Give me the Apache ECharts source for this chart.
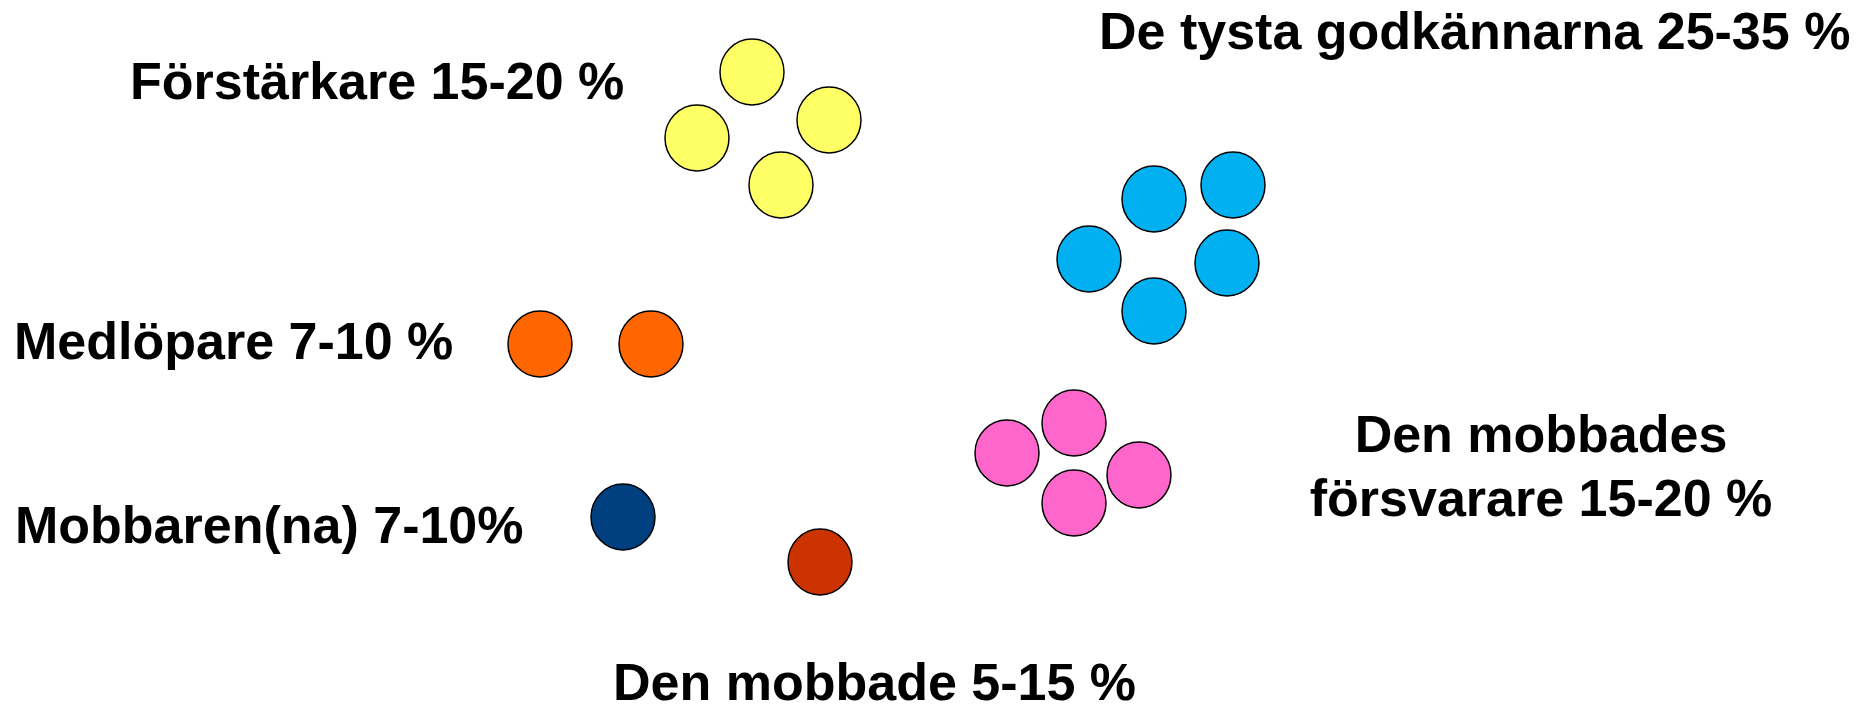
<!DOCTYPE html>
<html>
<head>
<meta charset="utf-8">
<title>Mobbning - roller</title>
<script src="https://cdn.jsdelivr.net/npm/echarts@6/dist/echarts.min.js"></script>
<style>
  html, body { margin: 0; padding: 0; background: #fff; }
  #main { width: 1856px; height: 709px; }
</style>
</head>
<body>
<div id="main"></div>
<script>
// circle groups, positions in the picture's own x/y space (0..1856, 0..709)
var forstarkare = [[752, 72], [829, 120], [697, 138], [781, 185]];
var tystaGodkannare = [[1154, 199], [1233, 185], [1089, 259], [1227, 263], [1154, 311]];
var medlopare = [[540, 344], [651, 344]];
var mobbaren = [[623, 517]];
var denMobbade = [[820, 562]];
var forsvarare = [[1074, 423], [1007, 453], [1139, 475], [1074, 503]];

// label texts and anchors
var labelTexts = [
  'Förstärkare 15-20 %',
  'De tysta godkännarna 25-35 %',
  'Medlöpare 7-10 %',
  'Mobbaren(na) 7-10%',
  'Den mobbade 5-15 %',
  'Den mobbades\nförsvarare 15-20 %'
];
var labelX = [130, 1099, 14, 15, 613, 1541];
var labelY = [85, 35, 345, 529, 686, 470];
var labelAlign = ['left', 'left', 'left', 'left', 'left', 'center'];

var myChart = echarts.init(document.getElementById('main'));

function circles(name, data, color) {
  return {
    name: name,
    type: 'scatter',
    symbol: 'circle',
    symbolSize: [64, 66],
    data: data,
    itemStyle: { color: color, borderColor: '#000', borderWidth: 1.5, opacity: 1 },
    emphasis: { disabled: true },
    silent: true
  };
}

var labelData = [];
for (var i = 0; i < labelTexts.length; i++) {
  labelData.push({
    value: [labelX[i], labelY[i], labelTexts[i]],
    label: { align: labelAlign[i] }
  });
}

var option = {
  animation: false,
  backgroundColor: '#ffffff',
  grid: { left: 0, right: 0, top: 0, bottom: 0 },
  xAxis: { type: 'value', min: 0, max: 1856, show: false },
  yAxis: { type: 'value', min: 0, max: 709, inverse: true, show: false },
  series: [
    circles('Förstärkare', forstarkare, '#FFFF66'),
    circles('De tysta godkännarna', tystaGodkannare, '#00B0F0'),
    circles('Medlöpare', medlopare, '#FF6600'),
    circles('Mobbaren', mobbaren, '#004080'),
    circles('Den mobbade', denMobbade, '#CC3300'),
    circles('Den mobbades försvarare', forsvarare, '#FF66CC'),
    {
      name: 'texter',
      type: 'scatter',
      symbolSize: 1,
      // scatter defaults to opacity 0.8, which would grey the labels
      itemStyle: { color: 'rgba(0,0,0,0)', opacity: 1 },
      emphasis: { disabled: true },
      silent: true,
      data: labelData,
      label: {
        show: true,
        position: 'inside',
        verticalAlign: 'middle',
        fontFamily: '"Liberation Sans", Arial, sans-serif',
        fontWeight: 'bold',
        fontSize: 52,
        lineHeight: 64,
        color: '#000000',
        formatter: function (p) { return p.value[2]; }
      }
    }
  ]
};
myChart.setOption(option);
</script>
</body>
</html>
